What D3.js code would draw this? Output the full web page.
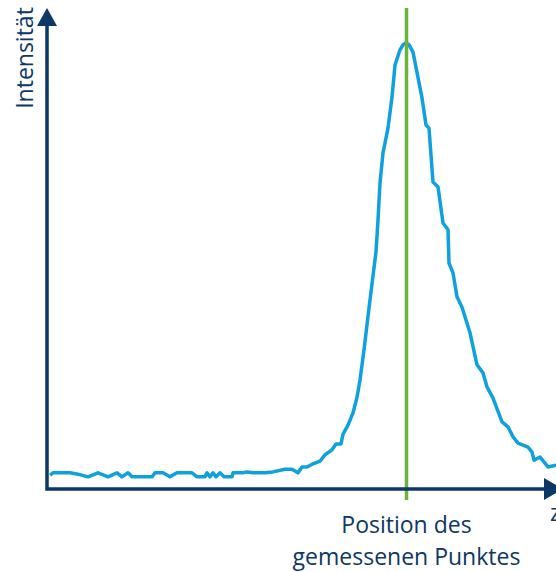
<!DOCTYPE html>
<html>
<head>
<meta charset="utf-8">
<script src="https://cdn.jsdelivr.net/npm/d3@7"></script>
<style>
    body { margin: 0; background: #fff; }
    svg { display: block; font-family: "Open Sans", sans-serif; }
</style>
</head>
<body>
<svg id="chart" width="556" height="572"></svg>
<script>
// measured profile: position along z (0-100) and intensity (0-100)
var positions = [
    0.6, 1.2, 4.6, 6.2, 8.2, 10.2, 12.2, 14.0, 15.0, 16.2, 17.0, 21.0, 21.6, 23.2, 24.6,
    26.0, 29.0, 30.0, 31.6, 32.0, 32.6, 33.2, 33.8, 34.6, 35.4, 37.0, 37.2, 39.2, 40.0,
    41.2, 43.6, 45.2, 47.6, 49.0, 50.2, 51.0, 52.0, 53.2, 54.6, 55.6, 57.0, 57.8, 58.8,
    59.2, 60.2, 61.2, 62.0, 62.6, 63.4, 64.2, 65.0, 65.8, 66.2, 66.6, 67.2, 68.2, 69.0,
    69.6, 70.6, 71.2, 71.8, 72.4, 73.2, 75.0, 75.8, 76.4, 77.2, 78.2, 79.2, 80.2, 80.4,
    81.2, 82.0, 83.0, 84.6, 86.0, 87.2, 88.0, 89.2, 91.0, 92.2, 93.2, 94.2, 96.2, 97.0,
    97.4, 98.6, 100.2, 101.8, 103.0
];
var intensities = [
    3.1, 3.6, 3.6, 3.3, 2.7, 3.6, 2.7, 3.6, 2.7, 3.6, 2.7, 2.7, 3.6, 3.6, 2.7,
    3.6, 3.6, 2.7, 2.7, 3.6, 2.7, 3.6, 2.7, 3.6, 2.7, 2.7, 3.6, 3.6, 3.8,
    3.6, 3.6, 3.8, 4.4, 4.4, 3.6, 4.9, 4.9, 5.6, 6.2, 7.6, 8.7, 10.0, 10.0,
    12.2, 14.2, 16.9, 20.4, 24.2, 30.9, 38.4, 45.6, 52.7, 59.8, 68.0, 74.7, 80.2, 87.1,
    94.2, 97.6, 98.7, 99.1, 98.7, 97.1, 86.9, 80.9, 80.2, 68.2, 67.1, 59.1, 57.6, 50.2,
    48.0, 42.7, 40.4, 34.7, 27.6, 25.8, 22.7, 20.2, 14.9, 13.8, 11.6, 10.2, 9.3, 8.2,
    6.4, 7.1, 4.9, 5.3, 5.0
];
var markerPosition = 71.9;
var yLabel = "Intensität";
var xLabel = ["Position des", "gemessenen Punktes"];
var zLabel = "z";

var navy = "#0c3766";
var blue = "#0fa0e0";
var green = "#6ab43c";

document.addEventListener('DOMContentLoaded', function () {
    DrawProfile();
});

function DrawProfile() {
    var svg = d3.select('#chart');
    svg.selectAll('*').remove();
    var g = svg.append('g');

    var data = positions.map(function (p, i) { return { x: p, y: intensities[i] }; });

    // scales
    var x = d3.scaleLinear().domain([0, 100]).range([47, 547]);
    var y = d3.scaleLinear().domain([0, 100]).range([489, 39]);

    // profile curve
    var line = d3.line()
        .x(function (d) { return x(d.x); })
        .y(function (d) { return y(d.y); });

    g.append('path')
        .datum(data)
        .attr('d', line)
        .attr('fill', 'none')
        .attr('stroke', blue)
        .attr('stroke-width', 3.5)
        .attr('stroke-linejoin', 'round');

    // vertical marker at measured point
    g.append('line')
        .attr('x1', x(markerPosition))
        .attr('x2', x(markerPosition))
        .attr('y1', 8)
        .attr('y2', 500)
        .attr('stroke', green)
        .attr('stroke-width', 3.5);

    // axes with arrow heads
    var x0 = x(0), y0 = y(0);
    g.append('path')
        .attr('d', 'M' + x0 + ',24 V' + y0 + ' H546')
        .attr('fill', 'none')
        .attr('stroke', navy)
        .attr('stroke-width', 3.5);

    g.append('path')
        .attr('d', 'M' + x0 + ',8 L' + (x0 - 10) + ',26 L' + (x0 + 10) + ',26 Z')
        .attr('fill', navy);

    g.append('path')
        .attr('d', 'M563,' + y0 + ' L544,' + (y0 - 11) + ' L544,' + (y0 + 11) + ' Z')
        .attr('fill', navy);

    // labels
    g.append('text')
        .attr('transform', 'translate(33,58) rotate(-90)')
        .attr('text-anchor', 'middle')
        .attr('fill', navy)
        .style('font-size', '23px')
        .text(yLabel);

    g.append('text')
        .attr('x', 550)
        .attr('y', 521)
        .attr('fill', navy)
        .style('font-size', '23px')
        .text(zLabel);

    g.selectAll('.xlabel')
        .data(xLabel)
        .enter().append('text')
        .attr('class', 'xlabel')
        .attr('x', x(markerPosition))
        .attr('y', function (d, i) { return 533 + i * 32; })
        .attr('text-anchor', 'middle')
        .attr('fill', navy)
        .style('font-size', '23px')
        .text(function (d) { return d; });
}
</script>
</body>
</html>
